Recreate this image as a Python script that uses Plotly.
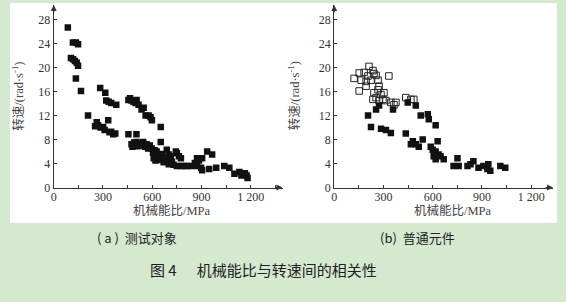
import plotly.graph_objects as go

# ---- data ----
a_x = [86,117,135,148,105,118,129,140,148,135,166,
       283,314,320,335,350,381,209,252,262,270,285,301,310,332,340,350,363,375,
       455,465,474,486,498,505,517,535,548,560,578,590,598,652,
       455,504,
       474,480,490,504,510,520,535,545,556,566,575,585,597,605,615,627,652,609,620,635,640,652,660,670,675,689,690,700,701,713,720,730,744,750,750,763,775,775,793,812,836,860,873,873,885,898,904,904,935,947,965,990,1039,1070,1101,1131,1144,1150,1165,1175,1181]
a_y = [26.7,24.2,24.2,23.9,21.6,21.4,21.1,20.8,20.3,18.2,16.1,
       16.6,15.8,14.5,14.3,14.1,13.8,12.0,10.2,10.9,10.4,10.0,10.1,9.6,11.2,9.2,9.3,8.9,9.0,
       14.6,14.9,14.5,14.3,14.1,14.6,13.8,13.0,13.3,12.0,12.0,11.7,11.2,10.1,
       8.9,8.9,
       7.2,6.8,7.5,7.6,6.9,7.0,7.3,7.6,6.8,7.2,6.5,7.0,6.5,5.8,6.2,6.0,7.6,4.9,4.5,5.3,4.6,4.9,5.6,4.2,5.0,6.3,4.6,5.5,3.9,5.2,4.3,3.8,6.0,5.7,3.6,5.2,4.9,3.6,3.6,3.6,3.6,4.1,4.9,3.6,4.5,3.3,4.9,2.9,6.0,3.1,5.5,3.3,3.6,3.3,2.3,2.6,2.0,2.3,2.4,2.0,1.6]

b_open_x = [121,152,182,212,236,255,164,194,206,224,242,267,333,152,194,242,267,273,285,303,236,255,273,297,315,345,364,376,436,467,485]
b_open_y = [18.2,19.1,19.2,20.2,19.5,18.7,17.9,17.7,18.6,17.9,19.0,17.9,18.6,16.1,16.9,15.8,16.3,16.9,15.5,15.8,14.7,15.0,14.5,14.7,14.5,14.2,13.8,14.2,15.0,14.7,14.7]

b_fill_x = [255,273,358,448,497,206,224,285,315,345,436,527,570,576,618,
            479,467,497,515,539,588,600,618,630,636,648,667,618,606,
            751,727,758,812,848,830,879,909,933,951,939,1012,1042]
b_fill_y = [13.0,13.7,13.0,14.2,13.7,12.0,10.1,9.8,9.6,9.1,9.0,12.0,12.2,11.4,10.4,
            7.7,7.2,7.2,6.8,8.0,6.8,6.3,6.0,7.7,5.5,5.2,4.7,4.7,5.2,
            4.9,3.6,3.6,3.6,4.4,3.9,3.3,3.6,3.1,2.8,3.9,3.6,3.3]

x_ticks = [0, 300, 600, 900, 1200]
x_ticktext = ["0", "300", "600", "900", "1 200"]
y_ticks = [0, 4, 8, 12, 16, 20, 24, 28]

W, H = 566, 302
BG = "#d4e9cf"
AX = "#333333"

def px_x(p): return p / W
def px_y(p): return 1 - p / H

XMAX_L = (281 - 51) / 0.165
XMAX_R = (553 - 333) / 0.165
YMAX = (192 - 5) / 6.14

fig = go.Figure()
fig.add_trace(go.Scatter(x=a_x, y=a_y, mode="markers", xaxis="x", yaxis="y",
                         marker=dict(symbol="square", size=6.5, color="#111111"), showlegend=False))
fig.add_trace(go.Scatter(x=b_open_x, y=b_open_y, mode="markers", xaxis="x2", yaxis="y2",
                         marker=dict(symbol="square-open", size=6.5, color="#222222", line=dict(width=1)), showlegend=False))
fig.add_trace(go.Scatter(x=b_fill_x, y=b_fill_y, mode="markers", xaxis="x2", yaxis="y2",
                         marker=dict(symbol="square", size=6.5, color="#111111"), showlegend=False))

tickfont = dict(family="Liberation Serif, Times New Roman, serif", size=12, color="#333")
common_x = dict(showline=True, linecolor=AX, linewidth=1, ticks="inside", ticklen=3, tickcolor=AX,
                tickvals=x_ticks, ticktext=x_ticktext, tickfont=tickfont, showgrid=False, zeroline=False,
                ticklabelstandoff=-2,
                minor=dict(dtick=150, tick0=0, ticks="inside", ticklen=3, tickcolor=AX, showgrid=False))
common_y = dict(showline=True, linecolor=AX, linewidth=1, ticks="inside", ticklen=3, tickcolor=AX,
                tickvals=y_ticks, tickfont=tickfont, showgrid=False, zeroline=False, range=[0, YMAX])

fig.update_layout(
    width=W, height=H, margin=dict(l=0, r=0, t=0, b=0),
    paper_bgcolor=BG, plot_bgcolor="rgba(0,0,0,0)",
    xaxis=dict(domain=[px_x(51), px_x(281)], range=[0, XMAX_L], anchor="y", **common_x),
    yaxis=dict(domain=[px_y(192), px_y(5)], anchor="x", **common_y),
    xaxis2=dict(domain=[px_x(333), px_x(553)], range=[0, XMAX_R], anchor="y2", **common_x),
    yaxis2=dict(domain=[px_y(192), px_y(5)], anchor="x2", **common_y),
)

fig.add_shape(type="rect", xref="paper", yref="paper", x0=px_x(7), x1=px_x(557), y0=px_y(228), y1=px_y(3),
              fillcolor="white", line=dict(width=0), layer="below")

# axis arrows
for xa, ya, xm in [("x", "y", XMAX_L), ("x2", "y2", XMAX_R)]:
    fig.add_annotation(x=xm, y=0, xref=xa, yref=ya, ax=-9, ay=0, showarrow=True,
                       arrowhead=2, arrowsize=1, arrowwidth=1.2, arrowcolor=AX, text="")
    fig.add_annotation(x=0, y=YMAX, xref=xa, yref=ya, ax=0, ay=9, showarrow=True,
                       arrowhead=2, arrowsize=1, arrowwidth=1.2, arrowcolor=AX, text="")

def label(xp, yp, text, font, angle=0):
    fig.add_annotation(x=px_x(xp), y=px_y(yp), xref="paper", yref="paper", showarrow=False,
                       xanchor="center", yanchor="middle", text=text, textangle=angle, font=font)

title_font = dict(family="Liberation Serif, Noto Sans CJK SC, serif", size=12.5, color="#444")
for xp in (15, 292):
    label(xp, 98, "转速/(rad·s<sup>-1</sup>)", title_font, -90)
for xp in (170, 452):
    label(xp, 216, "机械能比/MPa", title_font)

cap_font = dict(family="Noto Sans CJK SC, sans-serif", size=13, color="#222")
label(135, 243, "( a )  测试对象", cap_font)
label(417, 243, "(b)  普通元件", cap_font)
label(262, 276, "图 4      机械能比与转速间的相关性",
      dict(family="Noto Sans CJK SC, sans-serif", size=15, color="#222"))

fig.write_html("out.html")
